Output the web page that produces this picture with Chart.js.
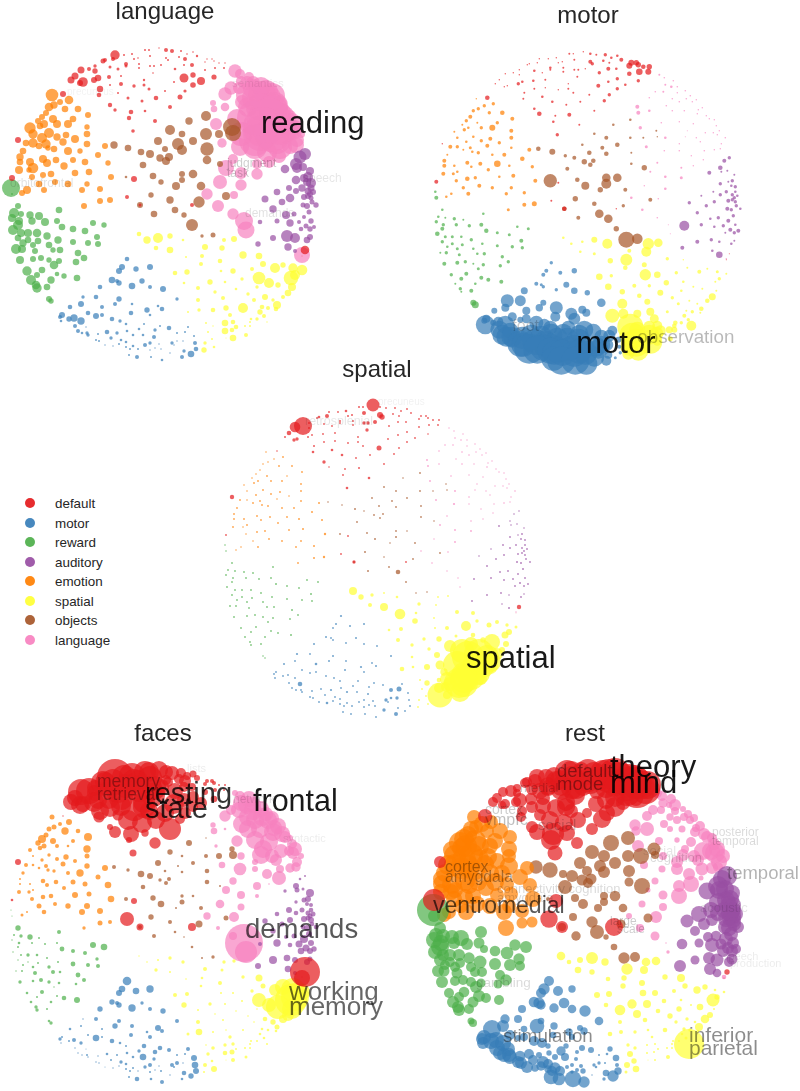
<!DOCTYPE html>
<html>
<head>
<meta charset="utf-8">
<title>topic maps</title>
<script src="https://cdn.jsdelivr.net/npm/chart.js@4"></script>
<style>
html, body { margin: 0; background: #fff; overflow: hidden; width: 800px; height: 1091px; }
canvas { position: absolute; }
#legend { position: absolute; left: 25px; top: 494px; font: 13.4px "Liberation Sans", sans-serif; color: #262626; }
#legend div { height: 19.55px; line-height: 19.55px; white-space: nowrap; }
#legend i { display: inline-block; width: 10px; height: 10px; border-radius: 50%; margin-right: 20px; opacity: .92; }
</style>
</head>
<body>
<div id="legend"></div>
<script>
const clusters = ["default", "motor", "reward", "auditory", "emotion", "spatial", "objects", "language"];
const colors = ["#e41a1c", "#377eb8", "#4daf4a", "#984ea3", "#ff7f00", "#ffff33", "#a65628", "#f781bf"];

// the same topic map is used in all five panels, only the sizes change
const sites_default = [
[63,94],[71,80],[75,76],[80,83],[83,82],[81,70],[89,69],[95,66],[95,71],[94,80],
[98,78],[100,89],[99,95],[103,61],[105,60],[113,59],[115,55],[124,55],[110,67],[109,77],
[110,85],[118,69],[121,76],[121,84],[118,93],[110,105],[115,110],[128,98],[131,112],[129,118],
[133,131],[126,64],[126,66],[132,54],[134,59],[138,58],[145,50],[149,50],[159,48],[166,50],
[172,51],[181,51],[187,54],[193,52],[197,56],[166,58],[168,60],[179,57],[185,59],[139,64],
[139,68],[150,56],[150,66],[154,66],[161,65],[153,73],[144,80],[134,86],[144,85],[149,89],
[165,91],[156,98],[142,101],[145,111],[155,121],[170,107],[174,82],[175,69],[184,65],[192,65],
[184,78],[193,75],[201,81],[193,85],[185,91],[180,97],[205,62],[207,59],[212,59],[214,61],
[219,63],[225,63],[205,70],[215,68],[224,68],[214,77],[18,140],[12,178],[127,197],[134,179],
[140,205],[192,205],[305,250],[302,256]];
const sites_motor = [
[127,259],[122,267],[119,271],[136,269],[150,267],[112,280],[117,281],[119,283],[100,287],[132,286],
[142,281],[150,287],[163,289],[83,297],[96,297],[119,299],[115,304],[81,304],[102,307],[132,304],
[70,307],[177,299],[147,310],[162,309],[158,306],[131,313],[150,315],[88,313],[96,316],[102,315],
[62,315],[60,317],[61,321],[69,319],[74,318],[81,321],[112,319],[120,321],[126,324],[75,326],
[78,331],[82,333],[87,333],[88,335],[144,324],[139,329],[86,327],[107,332],[117,333],[127,331],
[133,335],[143,335],[155,330],[160,326],[169,328],[154,337],[177,333],[185,332],[188,327],[194,336],
[98,334],[111,338],[121,340],[96,340],[99,341],[126,342],[119,344],[105,345],[113,346],[150,343],
[145,345],[159,344],[172,343],[177,341],[183,341],[174,345],[195,343],[133,346],[126,347],[130,349],
[138,349],[150,350],[155,348],[161,349],[184,351],[196,349],[191,354],[170,353],[129,355],[137,357],
[151,357],[182,357],[162,360]];
const sites_reward = [
[18,206],[59,210],[14,213],[21,214],[30,215],[39,216],[12,218],[19,221],[32,221],[45,222],
[57,221],[18,225],[62,227],[93,223],[104,225],[73,229],[85,231],[13,230],[21,233],[28,233],
[37,233],[97,237],[18,238],[47,236],[58,240],[28,240],[38,241],[23,243],[73,242],[88,243],
[98,244],[49,245],[33,245],[53,250],[60,250],[22,249],[16,249],[35,251],[78,253],[41,258],
[84,258],[20,260],[33,259],[49,260],[59,261],[54,265],[76,262],[27,271],[42,270],[37,275],
[64,276],[57,274],[77,278],[51,280],[31,280],[36,285],[37,288],[47,287],[49,299],[51,301],
[11,188],[12,194]];
const sites_auditory = [
[300,157],[305,154],[296,164],[303,167],[297,168],[310,171],[285,169],[308,177],[304,178],[296,180],
[311,183],[307,182],[302,188],[296,191],[289,188],[277,192],[311,188],[308,191],[313,192],[310,194],
[308,196],[290,198],[304,197],[311,198],[265,199],[282,202],[312,202],[303,205],[316,205],[307,206],
[273,209],[286,215],[294,214],[309,212],[304,217],[311,221],[299,222],[277,221],[290,223],[260,222],
[301,229],[306,226],[310,229],[314,227],[273,238],[287,236],[295,238],[307,240],[310,237],[258,244],
[288,247],[295,251]];
const sites_emotion = [
[52,95],[69,100],[60,102],[54,105],[49,107],[46,113],[65,109],[78,109],[88,115],[42,117],
[53,119],[38,121],[73,119],[57,124],[68,124],[44,124],[30,128],[40,126],[87,127],[33,134],
[87,134],[75,139],[66,135],[57,137],[49,133],[42,138],[26,143],[33,143],[46,144],[63,142],
[87,144],[54,149],[48,148],[39,146],[23,151],[68,151],[80,151],[20,157],[43,159],[56,160],
[73,160],[98,155],[105,146],[30,162],[47,163],[20,162],[64,166],[85,162],[33,168],[19,170],
[29,170],[32,177],[108,163],[43,175],[51,174],[75,173],[89,172],[111,177],[55,182],[68,184],
[87,184],[39,184],[27,190],[22,193],[44,190],[82,190],[100,189],[110,200],[100,201],[84,206]];
const sites_spatial = [
[139,234],[147,240],[158,238],[170,236],[183,240],[156,248],[170,250],[186,257],[202,256],[205,247],
[222,248],[224,240],[234,239],[201,264],[220,261],[243,255],[259,256],[263,264],[175,273],[187,272],
[221,271],[233,271],[252,269],[275,268],[283,265],[302,270],[293,268],[184,283],[210,282],[225,282],
[242,279],[259,278],[269,283],[278,285],[291,278],[295,275],[198,288],[215,292],[236,289],[257,287],
[248,294],[292,287],[288,293],[198,300],[223,298],[254,300],[265,297],[273,300],[283,297],[277,305],
[188,312],[199,310],[213,310],[226,308],[243,308],[262,307],[268,308],[260,312],[264,316],[276,309],
[230,315],[251,319],[257,319],[206,323],[213,326],[225,323],[233,322],[236,327],[225,331],[232,330],
[233,338],[246,335],[245,326],[250,322],[250,326],[267,322],[208,332],[212,339],[205,343],[214,347],
[204,350],[226,338]];
const sites_objects = [
[206,116],[189,121],[170,130],[232,127],[233,133],[206,134],[219,134],[182,134],[193,141],[158,141],
[178,144],[114,145],[128,148],[165,149],[182,150],[141,152],[150,154],[207,149],[169,157],[160,158],
[166,161],[207,160],[143,165],[220,164],[126,177],[182,174],[193,174],[153,176],[182,180],[161,182],
[176,186],[201,186],[151,195],[226,196],[170,200],[199,202],[140,205],[154,214],[175,210],[184,215],
[192,225],[202,236],[213,235]];
const sites_language = [
[235,71],[240,74],[249,77],[241,81],[247,83],[253,83],[261,87],[239,88],[231,88],[266,92],
[253,89],[225,94],[248,95],[255,98],[262,95],[268,98],[272,96],[278,104],[213,103],[225,107],
[214,109],[242,102],[248,107],[260,107],[237,119],[255,118],[274,106],[282,112],[273,110],[285,115],
[290,116],[216,124],[269,120],[292,122],[295,127],[293,131],[263,127],[281,129],[289,129],[301,134],
[261,133],[241,134],[272,134],[222,143],[255,140],[276,138],[297,140],[240,147],[255,147],[280,147],
[290,146],[296,145],[267,152],[279,156],[233,159],[269,162],[257,164],[226,168],[241,173],[257,174],
[220,182],[241,185],[207,194],[234,195],[218,206],[233,214],[244,221],[246,230],[302,255]];

// bubble radii
const language_default = [
3,3.5,3.5,3,4.8,3.5,2,1.7,2.7,3,
3.3,3.2,2.3,2.5,2,2,4.7,1,1.5,2,
1,1.5,1,2,1,2.2,1.7,1.5,2.3,2.2,
1.8,2,1.5,1,1,.8,1,1,.7,2,
2,1,.8,.8,1.2,1,1,1,2,1,
1,1,1,1,1,.8,1.2,1.7,1.5,1.5,
1,2.3,1.5,1.3,2,2,1,1.3,1,2,
4.5,2.7,4,2.8,1.6,2.5,.7,.7,.7,.7,
.7,.7,1,1,1,2.6,3,3,2,3,
1.5,2,4.3,.4];
const language_motor = [
2.3,3,3,2.7,3,3.3,2,2.7,2.3,3.3,
2.7,2,3,1.7,2.3,2.7,2,3,2,1.3,
2.3,1.7,2.7,2.3,1.3,2.3,1.3,2.3,3,2,
3,2,1.3,2.7,3.7,3.7,2.3,1.7,1.3,2,
2,1.3,1.7,1.7,1,1.3,.7,2.3,1.7,1.3,
1.3,1.3,1.7,1,2.3,2,1,1,1,1,
1,1.7,1.3,1,1,1.3,1,.7,.7,1.7,
2,.7,1.7,.7,.7,.7,2,1.3,1,1,
1,.7,.7,.7,1.7,2.3,3.3,.7,1,2,
1,2,1.3];
const language_reward = [
3,3.3,5,3,3.7,4,4,4,3.7,4,
3,5,3.3,3,2.7,3.3,3.3,5,4,4,
4.3,3,3.3,3.7,3.7,3.3,3.3,3.7,3,3,
3,3.3,3,2.7,3.3,4,5,3,3.3,3,
3.3,4,3,2.7,3,4.3,3.3,4.7,3.3,3,
2.7,2.3,3.3,3.7,5,4.3,4.7,3.3,3,2.7,
9,1];
const language_auditory = [
6.5,6,6,4,5,4,4.3,5,4,4.3,
5,4,3.7,3,3,3.3,3.5,3.5,3,3,
3,4.3,3,2.5,3.5,3.3,2.5,2.5,2.7,3,
3.7,4,2.5,2.5,2,2.7,2,2.5,3.7,2.3,
2.3,2.5,2.7,2,3,6,5,3.3,3,2.7,
3.7,2];
const language_emotion = [
6.3,4.3,3,3.7,4.3,3,3.3,3.3,3,3,
4,3,3.3,4,4,4,5.7,3.3,2.7,4.7,
3.3,4,3.3,3.7,5,5,3.3,4.7,4.7,3.7,
3.3,3.3,2.7,3.3,3.3,4,2.7,3.7,4,3.3,
3,3,3,4,4,3.3,3.7,3.3,5.3,4,
2.7,3,2.7,3,3.3,3.3,3.3,3,3,3.3,
2.7,3.3,4,3,3,3,3,3,3,3];
const language_spatial = [
2.3,3.7,5,2.7,1.3,2.3,3.3,1,2,3,
2.7,2,3,2,2.3,3.7,3.3,3,2.3,2.7,
1.3,2.7,2,5,2.7,5.3,4.7,1.3,2.7,1.3,
1.7,6.3,5,2.7,7.3,5,2,1.7,1.3,1.7,
1.7,4,3.3,2,2,2,3,1.7,2,4,
1,1.7,2.3,2.7,5,2.3,2,2.7,2,2.3,
2,1.3,1.7,1,.7,3.3,2.3,2.3,3.3,2.3,
3.3,2,1,1,1,.7,1,1,1.7,1.3,
2.7,.5];
const language_objects = [
5,3.7,5,9,8,6,4,3.3,4,4,
6,3.7,3.3,3,5,3.3,4,6.7,4,3.7,
4,4.3,3.3,3,1.3,3,4.3,3.3,3,2.7,
4,4.3,2.7,4,3.7,5.7,3,3.3,3.3,2.7,
6,1.7,2.5];
const language_language = [
6.7,5,5,5,7,7,10,6,6.7,12,
10,6.7,12,13,14,13,13,9,3,4.3,
3.3,7,10,14,10,18,14,9,15,9,
6,6,22,9,7,9,20,16,11,4,
18,12,18,4.7,16,16,7,9,12,12,
8,8,10,7,5,6,5,8,6,5.7,
7,5.7,5.7,4,6,5.7,9,8.5,8];

const motor_default = [
2.3,.7,.7,.7,.7,.7,.7,.7,.7,1.7,
1.3,1,1,.7,.7,.7,.7,.7,1.3,1.3,
1,.7,1,.7,1.3,1.3,2.3,1.3,1,1.3,
1.7,1.3,1,.7,.7,.7,1,.7,.7,1.3,
1,1.7,1.3,1.3,2,2,1.7,1.3,1,1,
1,1,1,1,.7,1,.7,.7,1,1,
1,1,1,2,1,1,2,1.7,2,1.3,
1.3,1.7,1.3,1.7,1.7,1.7,3,3,2.7,2.7,
2.3,2.7,2.3,3.3,3,1.7,.7,2,1,1,
2.3,.7,.5,.5];
const motor_motor = [
1.7,2,2,2,2.7,2,1.5,1.7,3.5,1.7,
3,3.3,2.7,6.5,5.5,3,3.7,4,4,6.5,
3,4.3,6,4,4,5,6,4.5,3,4.5,
4,3,9.5,3,5,9,7,6,7,9,
10,10,10,9,7,9,8,11,11,11,
11,11,9,9,8,12,7,6,5,3,
11,13,13,13,12,12,13,15,14,12,
12,11,10,9,6,10,2,13,13,12,
13,13,12,12,4,1.7,1.5,10,12,14,
14,5,11];
const motor_reward = [
1.3,1.3,1.3,1,1.7,1,1.7,1.7,1.7,1.7,
2,2,2.2,1.3,1.5,1.5,1.5,2.3,1.5,1.5,
1.3,2,1.7,1.7,1.3,1.5,1.5,1.3,1.5,1.7,
1.7,1.3,1.5,1.3,1.7,1.7,1,1.5,1.7,1.7,
1.7,2,2,1,1.7,1.5,1.7,1.7,2,2,
2,2,2,1.3,1,1.7,1,2,3,3.5,
1.3,2];
const motor_auditory = [
2,1.7,2.3,1,1,1,2,1.7,1,1.7,
1.7,1.3,1.7,1.7,1,1,1.3,1.7,1.3,1.7,
1.7,1.7,2,1.7,1.7,1.7,1.7,2,1.3,1.7,
1.7,1.3,1.7,1.7,2,1.3,1.7,1.7,1.3,5,
1,2,1.7,2,2,1.7,1.3,1.3,1,2,
1.3,3.3];
const motor_emotion = [
.7,1.7,1.7,1.7,1.7,2,1.7,2.3,2,1.7,
1,1,1.7,1.7,3,1.3,1,1.7,2,1.3,
2,1.7,2,1.7,1.3,1.3,2,1.7,1.5,2,
1.3,1.7,1.3,1,1,1.3,2,2,2,2,
3.3,2.3,2,1.3,1.3,2,1.7,1.3,1.3,2,
1.5,1.7,1.7,2.3,1.7,1.3,2,2,2,1.7,
1.7,1.7,1.3,1.3,2,1.7,1.7,2.5,2,1.5];
const motor_spatial = [
1.3,1.3,1.3,3,5,1.3,1.5,2.7,6,2,
5,5.7,4.3,2.3,2.5,1.7,.7,1,3.3,1.7,
5.7,3.3,1.7,2,1,1,1.5,3.3,2,1.7,
2.7,1.3,1,1,1,1.7,2.7,2.3,3,1.3,
1.7,1,3.5,5,3,1.5,1,1,2.3,2.3,
7,5,4,4,1.5,1,1.7,2,1.7,1,
4.5,2.3,1.7,13,8,6,5,5.5,10,7,
4,2.5,3.5,2.3,3,5,13,14,9,10,
6,12];
const motor_objects = [
1.3,1.3,1.3,1,.7,1.3,1,2,2.3,1.3,
2,2.3,3,2.3,2.3,1.7,2,1,2.3,2.7,
2.3,1.3,2,2.7,6.7,4.3,4.3,2.3,5,4,
2.7,2,2.7,2,2.3,1.7,2.3,2,4.3,4.3,
2.7,8,5.3];
const motor_language = [
1,.8,.8,1,1.3,.8,.8,1,.8,.8,
.7,.8,.8,.8,.8,.7,.7,.7,2,1.3,
2,.8,.8,.8,.8,.7,.7,.7,.7,.7,
.7,1.7,.7,.7,.7,.7,.5,.7,.7,.8,
.5,1.3,.7,1.5,.7,.7,.7,.8,.8,.8,
.7,.7,.7,.7,1,.7,1,1,1.3,1.5,
.7,1.3,1.3,.8,1.3,.8,.5,.5,.7];

const spatial_default = [
.8,1,2.3,1.7,1.7,5.3,9,1,1,1,
.9,1,1.3,.9,1.3,2,1,.9,.9,.9,
.9,.9,.9,.9,1.3,1.7,.8,1.3,.9,.9,
1.3,1,.9,1.3,1,1,1,1,6.5,1,
.9,.9,.9,.9,.9,3,2.7,.9,.9,.9,
.9,2,1.7,1.7,2,1.7,.9,.9,.9,.9,
2.5,.9,.9,1,1.3,.9,.9,.9,.9,.9,
.9,.9,.9,.9,.9,.9,.9,.9,.9,.9,
.9,.9,.9,.9,.9,.8,2.2,.9,.9,.9,
1.7,.9,2.2,.3];
const spatial_motor = [
1.1,1,.9,1,1,1,.9,.9,1,.9,
1,.9,.9,1.1,.9,1,1,.9,1.3,.9,
1,1,1.1,1,.9,1,.9,.9,.9,.9,
.9,.9,.9,.9,.9,.9,.9,.9,.9,.9,
.9,.9,.9,.9,.9,.9,2.3,.9,1.1,.9,
1.1,.9,.9,.9,.9,1,2,2.5,.9,.9,
.9,.9,.9,.9,.9,.9,.9,.9,1.3,.9,
.9,.9,1.7,1.3,1.7,.9,.9,.9,.9,.9,
.9,.9,.9,.9,.9,.9,.9,1.7,.9,.9,
.9,2,.9];
const spatial_reward = [
.9,.9,.9,.9,.9,.9,.9,.9,.9,.9,
.9,.9,1,.9,.9,.9,.9,.9,.9,.9,
.9,1,.9,.9,.9,.9,.9,.9,.9,.9,
.9,.9,.9,.9,.9,.9,.9,.9,1,.9,
.9,.9,.9,.9,.9,.9,.9,.9,.9,.9,
.9,.9,1,.9,.9,.9,.9,.9,.8,.8,
.8,.8];
const spatial_auditory = [
.8,.8,.8,.8,.8,.8,.9,.9,.8,.9,
.9,.9,.9,.9,.9,.8,.9,.9,.9,.9,
.9,.9,.9,.9,.8,.9,.9,1,.9,1,
.9,.9,.9,1,.9,.9,.9,.9,.9,.9,
.9,1,.9,.9,.9,.9,.8,.9,.8,.9,
.8,1];
const spatial_emotion = [
.8,.9,.8,.8,.8,.8,.9,.9,.9,.8,
.9,.8,.8,.9,.9,.9,.8,.9,.9,.8,
.9,.8,.9,.9,.9,.9,.9,.8,.9,.8,
.9,.9,.9,.9,.9,.9,.9,.9,.9,.9,
.9,1,1,.9,.9,.9,.9,1,.9,.9,
.8,.8,1,.9,.9,.9,1,1.2,.9,.9,
.9,.8,.8,.8,.9,.9,1,1.2,1,.9];
const spatial_spatial = [
4,2.7,1.7,.9,1.3,2,4,5.3,1.3,1.7,
.9,.9,.9,2.8,.9,2,2,1.7,1.3,2,
1,2,5,2.5,2,1.5,1.7,2,1.7,2.7,
1.5,2.3,2.7,8,3.5,3,1.7,1.7,6,7,
12,3,3,1.3,3,16,15,12,6,10,
2.3,1.3,3,4.5,14,13,13,13,12,8,
3.7,14,14,1,2.7,2.3,7,7,5,5,
4,10,15,14,14,6,.9,.9,1,.9,
.9,12.5];
const spatial_objects = [
.9,.8,.9,.8,.8,.9,.8,.9,.9,.9,
.9,.8,.8,.9,.9,1,.8,.9,.9,.9,
.9,.9,.9,.8,.9,.9,.8,.9,1,1,
.8,.9,1,.9,.8,.9,.9,1,.9,2.3,
.9,.8,.8];
const spatial_language = [
.7,.7,.7,.8,.8,.7,.7,.8,.8,.7,
.7,.8,.8,.8,.7,.7,.7,.7,.9,.8,
.9,.7,.8,.7,.8,.7,.7,.7,.8,.7,
.7,.9,.7,.7,.7,.7,.7,.7,.7,.8,
.7,.9,.7,.9,.8,.7,.7,1.1,.7,.7,
.8,.7,.7,.7,.8,.7,.8,.9,.9,.9,
.7,.9,.8,.8,.8,.7,.7,.7,.7];

const faces_default = [
.7,8,8,9,8,13,13,8,8,10,
9,9,5.6,12,10,12,18,12,10,10,
10,12,12,10,5.5,3,6,10,8,3,
3.5,12,10,13,12,10,11,10,9,7,
7,5,4,3.5,3,5,5,5,6,11,
12,12,12,12,8,12,11,13,11,9,
9,9,10,3.7,5.7,11,10,8,5,4,
7,6,6,5,6,5,2,2,2,2,
1,1,3,2,1,3.3,3,1.3,7,3,
3.5,4,15,8];
const faces_motor = [
4.3,3.3,3,3.3,3.7,2.7,2,2.7,2.7,3.7,
1.7,2,2.7,.7,2,2,2.7,1,1,2,
1.3,2,1.3,2,3,2,2,1,3.3,1,
1,1.7,.7,1,2,1.7,2.3,1.3,1,.7,
.7,.7,1,.7,2.3,1.7,.5,1.3,1,1.3,
1.3,3.3,2.3,2.3,2,1.7,1,1,2,3,
.7,1,1.7,.7,.7,1.3,.7,.5,.7,2,
1.7,.7,2,2,.7,1,3.3,1,1,1,
.7,1,.7,1,2.3,3,2.7,.7,1,2.3,
1.3,1.3,2];
const faces_reward = [
2.7,2,1,1.7,2.7,1,.7,1.3,1,1,
1,1,2.4,3,3.3,2,2,.7,1,1.7,
1.3,1.7,.7,1,1,.7,1,1,2.4,2,
2,1.7,1.3,2,1.3,1,.7,2,2.4,2,
2,1.7,1.3,1.7,1.3,.7,1.3,1.3,2,1,
2.3,1,3,1.3,1.3,1.7,1.7,1,1.3,1.7,
.6,.6];
const faces_auditory = [
1.3,1,3,1.5,2.5,4,1.7,3,2.5,1.7,
2,2,2.5,2.3,3,2.3,2.3,2.5,2.5,2.5,
2.5,3,3,3,2.7,2.5,2.3,2.3,2.3,3,
2.7,2,2.5,3,4,3,3.5,3.7,2.3,2,
3.3,3.5,3,2.7,4,3.3,3,3,2.5,3,
3.3,2];
const faces_emotion = [
2.5,3,2,2.5,2.5,2.5,3.7,2.3,4,4,
3,2.7,2,2,1.3,2.5,2,2.3,3.7,1,
2.5,2,2.7,2,1.7,1.7,2,1.3,2,2.5,
2.7,1.7,1.7,1.3,1.7,2,3.7,1,2.3,2.3,
2.5,2.5,3,1,2,1,2,2.5,1,2,
1.7,2,3.3,2.3,2.3,3,2.5,3.3,2,2.7,
3,2.5,1,1.5,2.3,3,3,2,2.5,1.7];
const faces_spatial = [
.7,.8,1,1.7,1.7,1.7,1,.8,1.3,2,
1.5,1.7,1.7,1.3,2,1.7,3.5,2.5,2,2,
1,1,1.7,6,8,8,12,2.7,1.7,1,
1,7,7,12,16,14,1,.8,.8,.8,
.8,10,6,2,1,.8,2.3,2.7,4,2.5,
1.5,3.3,1,.8,1,1.3,1.3,1.3,1.3,1.3,
1.7,1,1,.8,1.8,1.7,1.7,1,2.3,2.5,
2,1.5,1,1,1,1,1.7,1.3,2,3,
1,.5];
const faces_objects = [
.7,3,2.7,2.7,4,2,3,1.3,2,3,
1,2,1.7,1.3,1.3,3.3,3,2.3,2,1.7,
2,2.3,2.3,1,2,1.7,1.3,2.7,2.5,3.3,
1,2,2.7,2.5,2,3.5,2,2,1.3,.8,
1.3,1,1.7];
const faces_language = [
3,5,8,8,9,8,8,8,5,7,
9,5.7,9,9,9,9,7,8,2.7,1.3,
3.3,9,9,9,5.7,9,8,8,9,6,
3,1.7,9,5,7,6,9,7,5,3,
9,3.7,7,3.3,3,6,5,6.3,3,4,
4.7,4.7,5,7,3.7,.8,4,4,4,2,
4.3,3.5,3.7,5,2,4,19,11,.8];

const rest_default = [
7,5,5,4,5,5,6,4,4,5,
7,5,5,5,5,7,8,8,6,6,
6,8,7,8,6,6,8,9,11,10,
7.5,9,8,9,10,10,12,11,8,13,
11,13,17,16,16,12,12,11,11,10,
10,12,11,11,9,10,9,9,9,7,
5,8,9,8,6,6,8,8,11,10,
9,10,7,10,8,9,17,17,16,16,
14,14,14,18,14,7,6,11,8.7,7,
6,9,2.7,.5];
const rest_motor = [
5,5.7,5,5,3.7,5.3,5.7,4.7,4,4.7,
5.3,4.3,5.7,4.7,4,3.3,7.3,6,3.3,3.7,
9,4.3,3.7,3.7,3,3.3,3,5,3,4,
7,6,6,8,8,8,5,5,2.7,8,
7,7,7,7,2.7,4.7,7,5,3,2.7,
3,4,2,3,3,2,1,1.3,2.7,3.3,
5.3,5,6,6,6,5,4.7,6,3.7,2,
2,2,1.7,1.7,1,1.3,2,5.7,3.7,5,
5,1.7,2,2.7,3.3,3.7,5.7,.7,7.3,6.3,
8.3,1.7,5.7];
const rest_reward = [
6,6,7,7,7,8,8,8,6,6,
5.5,9,4,5.7,6,5.3,6.3,7,6,6,
6,5.7,6,5.7,6.5,5,5,5,6,6,
5,5,5,5,5,5.5,6,5.5,5,5,
5.7,6,5,5,4.5,6,4.5,5,5.3,5,
5,6,5,5.5,6,6,6,5,3.5,4,
16,6];
const rest_auditory = [
9,10,10,9,9,8,8.5,9,9,9,
8,8,8,8,8,8,8,9,8,9,
8,6,8,8,6.5,6,7,7,6,8,
5,5,5.3,7,7,6,5.5,4.5,7,5.3,
6,6,6,5,4.5,6,6.5,5,5.5,6,
6,4.3];
const rest_emotion = [
7,7,8,7,8,9,7,8,7,10,
11,11,8,10,8,11,9,10,8,11,
7,8,9,10,12,12,10,11,11,9,
9,9,9,11,9,9,8,9,10,9,
9,8,7,10,9,9,8,7,8,8,
8,8,7,8,8,7,7,8,8,8,
7,7,7,7,8,8,7,5.5,5.5,8];
const rest_spatial = [
4.3,2.3,3,6,3.7,3.3,2.7,2.3,2.7,5.7,
4,4.3,4.3,2.7,3,2.7,4,2.7,3,3,
3.3,3,2,3.7,2.7,1.3,1.3,2.3,4.7,4,
2.3,1.3,1,3.3,6.5,2.7,5.3,4,2.3,2.7,
2.7,1,3,2,2.3,1.7,1.7,1.3,4.3,4,
2.3,2,1.7,1.3,2.3,1.7,1.7,1.3,1.5,1.3,
1.3,1,1,1.7,1.7,1,1,1,1,1,
1,2,1,1,1,15,3,2.7,3,3.3,
1.5,.5];
const rest_objects = [
7,8,7,6.5,4,6,8,6,6,6,
6,6.7,7.7,5,6,4,6,6,5.5,5.5,
5,4.5,7,8,2,4,5.3,4,4,5,
4,4.3,4,4.5,5.7,4.5,4,4.7,7,2.7,
3.3,5.7,5];
const rest_language = [
5,5,5,4.7,3,6,3,4,5,4,
4,5,3.7,4,4,4,4,5,5.7,7,
4.7,4,3,3.5,4,2.7,4,6,5,6,
5,6,5,6,8,10,4,9,9,7,
6,4,6,4,6,6,8,3.5,6,6.5,
6,5,6,2.5,3.5,8,6,2.5,4.5,8,
3.5,4,3,6,4,4.5,.7,1.7,2.3];

// words of each panel: text, x, y (baseline), size, darkness
const language_words = [
["reading",261,133,31,.9],["semantics",232,87,11.5,.08],["judgment",227,167,12,.2],["task",227,177,12,.2],
["speech",303,182,12,.1],["demands",245,217,12,.12],["orbitofrontal",10,187,12,.12],["precuneus",67,95,10,.05]];
const motor_words = [
["motor",152,349,31,.9],["observation",213,339,18.8,.28],["foot",88,327,16,.2]];
const spatial_words = [
["spatial",252,311,31,.9],["retrosplenial",91,68,12.5,.1],["precuneus",164,48,10,.06]];
const faces_words = [
["frontal",253,89,30.5,.9],["resting",145,81,29,.8],["state",145,96,29,.8],["memory",97,65,17.5,.35],["retrieval",97,78,17.5,.35],
["network",233,81,12,.12],["syntactic",283,120,11,.08],["lists",187,50,11,.08],["demands",245,216,27.5,.65],
["working",289,278,26,.6],["memory",289,293,26,.6]];
const rest_words = [
["theory",188,55,31,.9],["mind",188,71,31,.9],["default",135,55,18.5,.4],["mode",135,68,18.5,.4],["medial",98,70,13,.2],
["cortex",63,92,14,.2],["vmpfc",63,103,16,.25],["social",116,108,15,.2],["cortex",23,150,16,.35],["amygdala",23,160,15.7,.35],
["ventromedial",11,191,23,.65],["connectivity cognition",75,171,13,.15],["amygdala",75,180,13,.15],["temporal",305,157,18.5,.3],
["posterior",290,114,12,.15],["temporal",290,123,12,.15],["cognition",228,140,13,.15],["social",221,133,13,.1],
["stimulation",81,320,18.8,.45],["inferior",267,320,21,.45],["parietal",267,333,21,.45],["gambling",54,265,13.5,.15],
["large",188,203,12,.2],["scale",195,211,12,.2],["speech",301,238,11,.08],["production",308,245,11,.08],["acoustic",278,190,13,.1]];

const allSites = [sites_default, sites_motor, sites_reward, sites_auditory, sites_emotion, sites_spatial, sites_objects, sites_language];
const titleHeight = 28.8; // 24px title, no padding

const wordsPlugin = {
    id: "words",
    afterDatasetsDraw(chart, args, opts) {
        const ctx = chart.ctx;
        ctx.save();
        ctx.textAlign = "left";
        ctx.textBaseline = "alphabetic";
        opts.list.forEach(([text, x, y, size, dark]) => {
            ctx.font = size + 'px "Liberation Sans"';
            ctx.fillStyle = "rgba(0,0,0," + dark + ")";
            ctx.fillText(text, chart.scales.x.getPixelForValue(x), chart.scales.y.getPixelForValue(y));
        });
        ctx.restore();
    }
};

function makePanel(title, radii, words, box) {
    const canvas = document.createElement("canvas");
    canvas.width = box.w;
    canvas.height = box.h;
    canvas.style.left = box.left + "px";
    canvas.style.top = box.top + "px";
    document.body.appendChild(canvas);

    const datasets = clusters.map((name, c) => {
        if (allSites[c].length !== radii[c].length) {
            throw new Error(title + "/" + name + ": " + allSites[c].length + " sites, " + radii[c].length + " radii");
        }
        return {
            label: name,
            data: allSites[c].map((s, i) => ({ x: s[0], y: s[1], r: radii[c][i] })),
            backgroundColor: colors[c] + "b3",
            borderWidth: 0,
            hoverRadius: 0,
            clip: false
        };
    });

    return new Chart(canvas, {
        type: "bubble",
        data: { datasets },
        plugins: [wordsPlugin],
        options: {
            responsive: false,
            animation: false,
            events: [],
            layout: { padding: 0, autoPadding: false },
            plugins: {
                legend: { display: false },
                tooltip: { enabled: false },
                title: {
                    display: true,
                    text: title,
                    color: "#262626",
                    padding: 0,
                    font: { size: 24, family: "Liberation Sans", weight: "normal" }
                },
                words: { list: words }
            },
            scales: {
                x: { type: "linear", display: false, min: box.left - box.dx, max: box.left - box.dx + box.w },
                y: { type: "linear", display: false, reverse: true, min: box.top + titleHeight - box.dy, max: box.top + box.h - box.dy }
            }
        }
    });
}

const charts = [];
charts[0] = makePanel("language",
    [language_default, language_motor, language_reward, language_auditory, language_emotion, language_spatial, language_objects, language_language],
    language_words, { left: -40, top: -2, w: 410, h: 385, dx: 0, dy: 0 });
charts[1] = makePanel("motor",
    [motor_default, motor_motor, motor_reward, motor_auditory, motor_emotion, motor_spatial, motor_objects, motor_language],
    motor_words, { left: 423, top: 2, w: 330, h: 385, dx: 424.3, dy: 3.7 });
charts[2] = makePanel("spatial",
    [spatial_default, spatial_motor, spatial_reward, spatial_auditory, spatial_emotion, spatial_spatial, spatial_objects, spatial_language],
    spatial_words, { left: 190, top: 356, w: 374, h: 375, dx: 214, dy: 357 });
charts[3] = makePanel("faces",
    [faces_default, faces_motor, faces_reward, faces_auditory, faces_emotion, faces_spatial, faces_objects, faces_language],
    faces_words, { left: -60, top: 720, w: 446, h: 375, dx: 0, dy: 722 });
charts[4] = makePanel("rest",
    [rest_default, rest_motor, rest_reward, rest_auditory, rest_emotion, rest_spatial, rest_objects, rest_language],
    rest_words, { left: 372, top: 720, w: 426, h: 375, dx: 422, dy: 722 });

const legend = document.getElementById("legend");
clusters.forEach((name, c) => {
    const row = document.createElement("div");
    const dot = document.createElement("i");
    dot.style.background = colors[c];
    row.appendChild(dot);
    row.appendChild(document.createTextNode(name));
    legend.appendChild(row);
});
</script>
</body>
</html>
